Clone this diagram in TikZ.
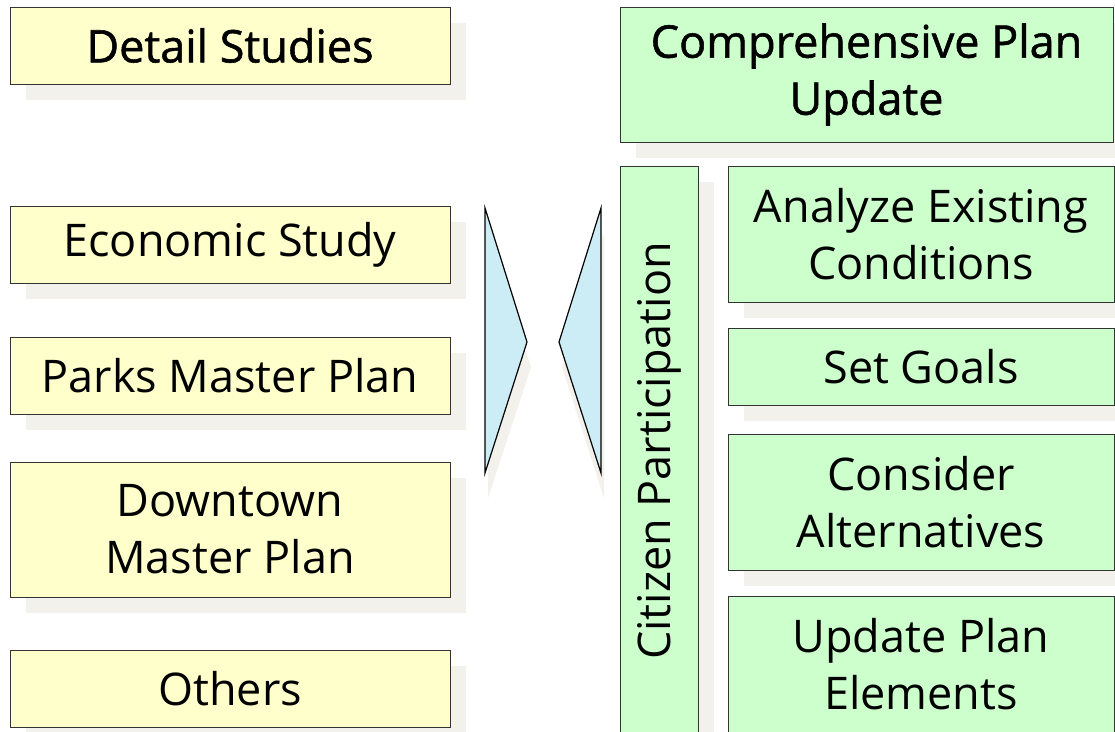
\documentclass[tikz,border=0pt]{standalone}
\usepackage{fontspec}
\setmainfont{Open Sans}
\newfontfamily\titlefont{Open Sans}[FakeBold=1.2]
\usetikzlibrary{shadows}
\definecolor{studyfill}{RGB}{255,255,204}
\definecolor{planfill}{RGB}{204,255,204}
\definecolor{funnelfill}{RGB}{204,236,246}
\definecolor{shadowgray}{RGB}{242,241,236}
\newcommand\boxfont{\fontsize{45}{57}\selectfont}

\begin{document}
\begin{tikzpicture}[x=1pt,y=-1pt,
  box/.style={draw=black!80,line width=1pt,rectangle,inner sep=0pt,align=center,
    font=\boxfont,
    drop shadow={shadow xshift=16pt,shadow yshift=-16pt,fill=shadowgray,opacity=1}},
  study/.style={box,fill=studyfill,minimum width=440pt},
  plan/.style={box,fill=planfill},
  title/.style={font=\boxfont\titlefont},
  funnel/.style={draw=black,line width=1.2pt,fill=funnelfill,line join=miter}]
\useasboundingbox (0,0) rectangle (1115,731);

% left column
\node[study,title,minimum height=77pt] (detail) at (230,45.5) {Detail Studies};
\node[study,minimum height=77pt]  (econ)     at (230,244.5) {Economic Study};
\node[study,minimum height=77pt]  (parks)    at (230,375.5) {Parks Master Plan};
\node[study,minimum height=135pt] (downtown) at (230,529.5) {Downtown\\Master Plan};
\node[study,minimum height=77pt]  (others)   at (230,688.5) {Others};

% funnel
\fill[shadowgray] (488,233) -- (531,367) -- (488,498) -- cycle;
\fill[shadowgray] (604,233) -- (562,367) -- (604,498) -- cycle;
\draw[funnel] (485,208) -- (527,342) -- (485,473) -- cycle;
\draw[funnel] (601,208) -- (559,342) -- (601,473) -- cycle;

% right column
\node[plan,title,minimum width=493pt,minimum height=135pt] (comp) at (866.5,74.5) {Comprehensive Plan\\Update};
\node[plan,minimum width=78pt,minimum height=570pt] (citizen) at (659,451)
  {\rotatebox{90}{Citizen Participation}};
\node[plan,minimum width=386pt,minimum height=136pt] (analyze)  at (921,234)   {Analyze Existing\\Conditions};
\node[plan,minimum width=386pt,minimum height=77pt]  (goals)    at (921,366.5) {Set Goals};
\node[plan,minimum width=386pt,minimum height=136pt] (consider) at (921,502)   {Consider\\Alternatives};
\node[plan,minimum width=386pt,minimum height=137pt] (update)   at (921,664.5) {Update Plan\\Elements};
\end{tikzpicture}
\end{document}
